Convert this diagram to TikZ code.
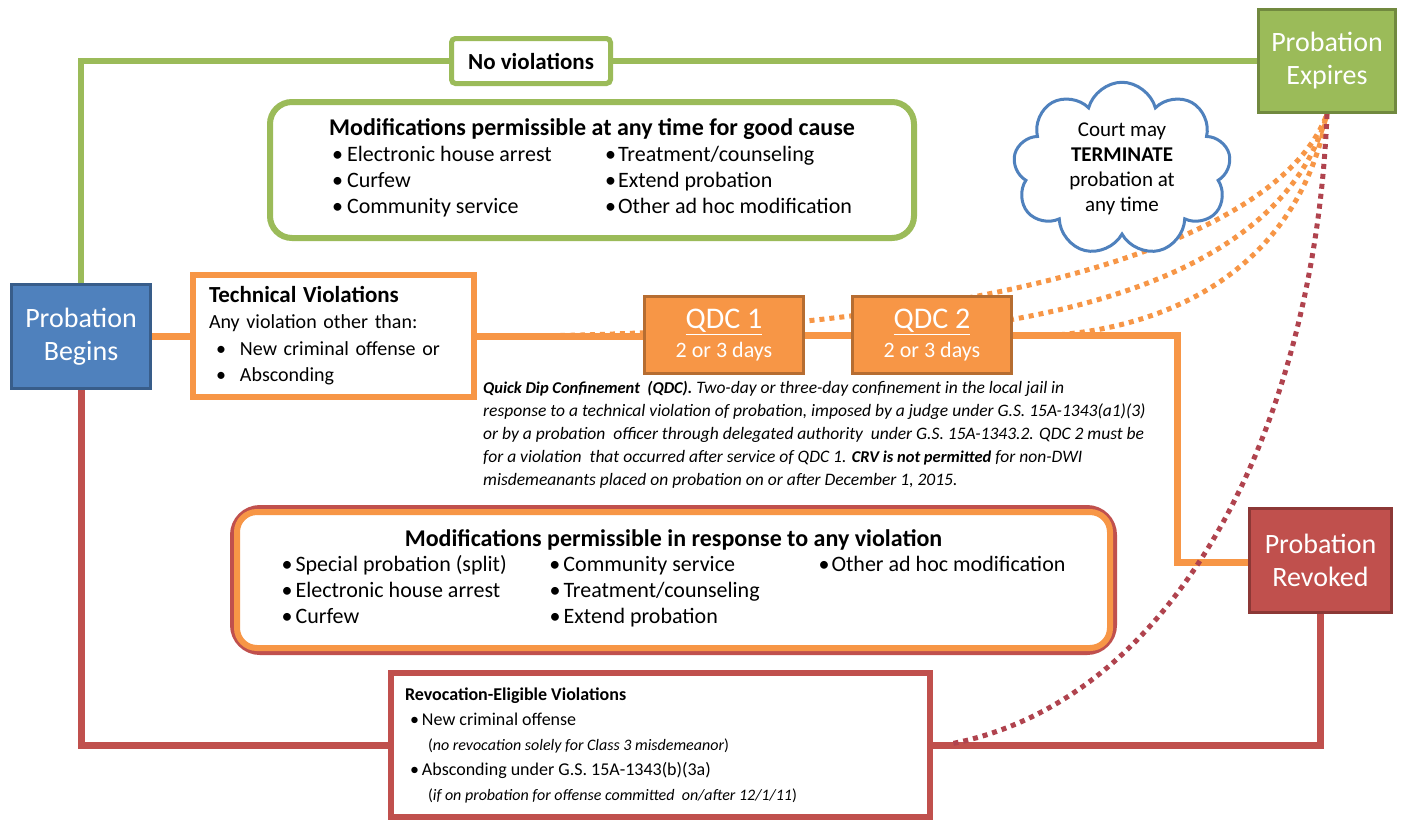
\documentclass[tikz,border=0pt]{standalone}
\usepackage{fontspec}
\setmainfont{Carlito}
\usetikzlibrary{shapes.symbols,calc}
\definecolor{ogreen}{HTML}{9BBB59}
\definecolor{ogreenD}{HTML}{71893F}
\definecolor{oorange}{HTML}{F79646}
\definecolor{oorangeD}{HTML}{B66D31}
\definecolor{ored}{HTML}{C0504D}
\definecolor{oredD}{HTML}{8C3836}
\definecolor{oreddot}{HTML}{B0434E}
\definecolor{oblue}{HTML}{4F81BD}
\definecolor{oblueD}{HTML}{385D8A}
\newcommand\setfs[2]{\fontsize{#1}{#2}\selectfont}
\newcommand\bulA{\makebox[15pt][l]{\textbullet}}
\newcommand\bulB{\makebox[13pt][l]{\textbullet}}
\pgfdeclarelayer{bg}
\pgfsetlayers{bg,main}
\tikzset{
  solidbox/.style={line width=3pt, text=white, font=\setfs{28}{33}, align=center, inner sep=0pt},
  bluebox/.style={solidbox, fill=oblue, draw=oblueD},
  greenfill/.style={solidbox, fill=ogreen, draw=ogreenD},
  redfill/.style={solidbox, fill=ored, draw=oredD},
  qdcbox/.style={line width=3pt, fill=oorange, draw=oorangeD, text=white, align=center, inner sep=0pt, minimum width=159pt, minimum height=77pt, font=\setfs{30}{32}},
  greenline/.style={draw=ogreen, line width=6pt},
  orangeline/.style={draw=oorange, line width=7pt},
  redline/.style={draw=ored, line width=7pt},
  orangedots/.style={draw=oorange, line width=5pt, dash pattern=on 5pt off 5pt},
  reddots/.style={draw=oreddot, line width=5pt, dash pattern=on 5pt off 5pt},
}
\begin{document}
\begin{tikzpicture}[x=1pt,y=-1pt]
\useasboundingbox (0,0) rectangle (1406,823);

% main state boxes
\node[bluebox, minimum width=139pt, minimum height=104pt] (begins) at (81,336.5) {Probation\\Begins};
\node[greenfill, minimum width=137pt, minimum height=103pt] (expires) at (1327,61) {Probation\\Expires};
\node[redfill, minimum width=142pt, minimum height=104pt] (revoked) at (1320.5,560.5) {Probation\\Revoked};

% no violations
\node[draw=ogreen, line width=5pt, fill=white, rounded corners=4pt, minimum width=159pt, minimum height=45pt, inner sep=0pt, font=\bfseries\setfs{23}{26}] (novio) at (531,61) {No violations};

% modifications for good cause
\node[draw=ogreen, line width=6pt, fill=white, rounded corners=22pt, minimum width=644pt, minimum height=136pt, inner sep=0pt, align=center, font=\setfs{22}{26}] (modgood) at (592,170)
{{\bfseries\setfs{24}{26}Modifications permissible at any time for good cause}\\[3pt]
\begin{tabular}{@{}p{273pt}@{}l@{}}
\bulA Electronic house arrest & \bulB Treatment/counseling\\
\bulA Curfew & \bulB Extend probation\\
\bulA Community service & \bulB Other ad hoc modification
\end{tabular}};

% cloud
\node[cloud, cloud puffs=9, aspect=1.5, draw=oblue, line width=3pt, fill=white, inner sep=0pt, minimum width=214pt, minimum height=140pt, align=center, font=\setfs{21}{25}] (cloud) at (1122,169) {Court may\\\textbf{TERMINATE}\\probation at\\any time};

% technical violations
\node[draw=oorange, line width=6pt, fill=white, minimum width=281pt, minimum height=122pt, inner xsep=16pt, inner ysep=0pt, text width=249pt, align=left, font=\setfs{20}{26}] (tech) at (333.5,336)
{{\bfseries\setfs{23}{26}Technical Violations}\\
Any violation other than:\\[1pt]
\hspace*{7pt}\makebox[24pt][l]{\textbullet}New criminal offense or\\
\hspace*{7pt}\makebox[24pt][l]{\textbullet}Absconding};

% QDC boxes
\node[qdcbox] (qdc1) at (724,335) {\underline{QDC 1}\\[-3pt]{\setfs{22}{24}2 or 3 days}};
\node[qdcbox] (qdc2) at (932,335) {\underline{QDC 2}\\[-3pt]{\setfs{22}{24}2 or 3 days}};

% QDC explanation
\node[anchor=north west, inner sep=0pt, align=left, font=\itshape\setfs{17.5}{23}] (qdctext) at (483,381)
{{\bfseries\setfs{16.5}{23}Quick Dip Confinement\ \ (QDC).} Two-day or three-day confinement in the local jail in\\
response to a technical violation of probation, imposed by a judge under G.S. 15A-1343(a1)(3)\\
or by a probation\ \ officer through delegated authority\ \ under G.S. 15A-1343.2. QDC 2 must be\\
for a violation\ \ that occurred after service of QDC 1. {\bfseries\setfs{16.5}{23}CRV is not permitted} for non-DWI\\
misdemeanants placed on probation on or after December 1, 2015.};

% modifications in response to any violation
\node[draw=ored, line width=8pt, fill=white, rounded corners=26pt, minimum width=879pt, minimum height=142pt, inner sep=0pt, align=center, font=\setfs{22}{26}] (modany) at (673.5,580)
{{\bfseries\setfs{24}{26}Modifications permissible in response to any violation}\\[2pt]
\begin{tabular}{@{}p{268pt}@{}p{269pt}@{}l@{}}
\makebox[14pt][l]{\textbullet}Special probation (split) & \makebox[14pt][l]{\textbullet}Community service & \makebox[13pt][l]{\textbullet}Other ad hoc modification\\
\makebox[14pt][l]{\textbullet}Electronic house arrest & \makebox[14pt][l]{\textbullet}Treatment/counseling & \\
\makebox[14pt][l]{\textbullet}Curfew & \makebox[14pt][l]{\textbullet}Extend probation &
\end{tabular}};
\draw[oorange, line width=6pt, rounded corners=20pt] ([shift={(7pt,7pt)}]modany.south west) rectangle ([shift={(-7pt,-7pt)}]modany.north east);

% revocation-eligible violations
\node[draw=ored, line width=6pt, fill=white, minimum width=539pt, minimum height=144pt, inner xsep=14pt, inner ysep=0pt, text width=511pt, align=left, font=\setfs{18}{25}] (revel) at (660.5,745)
{\spaceskip=0pt\xspaceskip=0pt\textbf{Revocation-Eligible Violations}\\
\hspace*{5pt}\makebox[12pt][l]{\textbullet}New criminal offense\\
\hspace*{23pt}{\setfs{16}{25}(\textit{no revocation solely for Class 3 misdemeanor})}\\
\hspace*{5pt}\makebox[12pt][l]{\textbullet}Absconding under G.S. 15A-1343(b)(3a)\\
\hspace*{23pt}{\setfs{16}{25}(\textit{if on probation for offense committed\ \ on/after 12/1/11})}};

% connector helper coordinates
\coordinate (oc) at (1177,562);
\coordinate (c1) at (530,336);
\coordinate (c2) at (870,336);
\coordinate (c3) at (1040,336);
\coordinate (rd) at (950,744);

\begin{pgfonlayer}{bg}
\fill[white] (0,0) rectangle (1406,823);
\draw[greenline] (begins.north) |- (novio.west);
\draw[greenline] (novio.east) -- (novio.east -| expires.west);
\draw[orangeline] (begins.east) -- (begins.east -| tech.west);
\draw[orangeline] (tech.east) -- (tech.east -| qdc1.west);
\draw[orangeline] (qdc1.east) -- (qdc1.east -| qdc2.west);
\draw[orangeline] (qdc2.east) -- (qdc2.east -| oc) -- (oc) -- (revoked.west |- oc);
\draw[redline] (begins.south) |- (revel.west);
\draw[redline] (revel.east) -| (revoked.south);
\draw[orangedots] (c1) .. controls (1000,330) and (1280,240) .. (expires.south);
\draw[orangedots] (c2) .. controls (1120,320) and (1290,250) .. (expires.south);
\draw[orangedots] (c3) .. controls (1180,330) and (1300,260) .. (expires.south);
\draw[reddots] (expires.south) .. controls (1315,420) and (1180,700) .. (rd);
\end{pgfonlayer}
\end{tikzpicture}
\end{document}
